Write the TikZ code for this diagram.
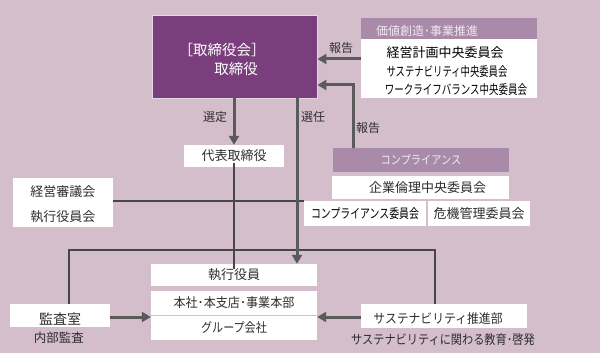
\documentclass[tikz,border=0pt]{standalone}
\usepackage{fontspec}
\setmainfont{Noto Sans CJK JP}
\usetikzlibrary{arrows.meta}
\definecolor{bgc}{HTML}{D4BECC}
\definecolor{boardc}{HTML}{7A3E7C}
\definecolor{hdrc}{HTML}{A98AA8}
\definecolor{hdrtxt}{HTML}{F2E8F1}
\definecolor{txtc}{HTML}{2E2E2E}
\definecolor{arrc}{HTML}{5A5A5A}
\definecolor{linec}{HTML}{474747}
\newcommand\cxs[2]{\scalebox{#1}[1]{#2}}
\tikzset{
  wbox/.style={fill=white, draw=none, inner sep=0pt, text=txtc, font=\fontsize{13}{14}\selectfont},
  hdrbox/.style={fill=hdrc, draw=none, inner sep=0pt, text=hdrtxt, font=\fontsize{12}{13}\selectfont},
  txt/.style={inner sep=0pt, text=txtc, font=\fontsize{13}{14}\selectfont},
  lbl/.style={inner sep=0pt, text=txtc, font=\fontsize{12}{13}\selectfont},
  thickarrow/.style={draw=arrc, line width=3pt, -{Triangle[width=10pt,length=9pt]}},
  thinline/.style={draw=linec, line width=1.1pt},
}
\begin{document}
\begin{tikzpicture}[x=1pt,y=-1pt]
\fill[bgc] (0,0) rectangle (600,353);
\useasboundingbox (0,0) rectangle (600,353);

% board
\node[fill=boardc, draw=white!80!boardc, line width=0.8pt, inner sep=0pt, minimum width=165pt, minimum height=83pt] (board) at (234.5,56.5) {};
\node[inner sep=0pt, text=white, font=\fontsize{14.5}{15}\selectfont] (boardt1) at (222,50) {［取締役会］};
\node[inner sep=0pt, text=white, font=\fontsize{14.5}{15}\selectfont] (boardt2) at (236,69) {取締役};

% value creation
\node[hdrbox, minimum width=176pt, minimum height=21pt] (vhdr) at (449,28.5) {};
\node[inner sep=0pt, text=hdrtxt, font=\fontsize{12}{13}\selectfont, anchor=west] (vhdrt) at (376,31) {価値創造･事業推進};
\node[wbox, minimum width=176pt, minimum height=59pt] (vbox) at (449,68.5) {};
\node[txt, text=black] (v1) at (445,53) {経営計画中央委員会};
\node[txt, text=black] (v2) at (447,72) {\cxs{0.72}{サステナビリティ中央委員会}};
\node[txt, text=black] (v3) at (456,90) {\cxs{0.73}{ワークライフバランス中央委員会}};

% representative director
\node[wbox, minimum width=100pt, minimum height=22pt] (rep) at (234,156) {代表取締役};

% management council
\node[wbox, minimum width=100pt, minimum height=49pt] (mgmt) at (63,202.5) {};
\node[txt] (mgmt1) at (63,192) {経営審議会};
\node[txt] (mgmt2) at (63,217) {執行役員会};

% compliance
\node[hdrbox, minimum width=176pt, minimum height=24pt] (chdr) at (421,160) {\cxs{0.85}{コンプライアンス}};
\node[wbox, minimum width=177pt, minimum height=23pt] (ceth) at (420.5,187.5) {\hspace{14pt}企業倫理中央委員会};
\node[wbox, minimum width=122pt, minimum height=25pt, text=black] (ccom) at (365,213.5) {\cxs{0.76}{コンプライアンス委員会}};
\node[wbox, minimum width=102pt, minimum height=25pt] (crisis) at (479,213.5) {危機管理委員会};

% executive officers and organisation
\node[wbox, minimum width=166pt, minimum height=22pt] (exec) at (234,275) {執行役員};
\node[wbox, minimum width=166pt, minimum height=49pt] (org) at (234,315.5) {};
\node[txt] (org1) at (234,303) {\cxs{0.93}{本社･本支店･事業本部}};
\node[txt] (org2) at (234,328) {\cxs{0.85}{グループ会社}};
\draw[draw=bgc, line width=1pt] (org.west |- 0,315.5) -- (org.east |- 0,315.5);

% audit
\node[wbox, minimum width=100pt, minimum height=23pt] (audit) at (60,315.5) {};
\node[txt, font=\fontsize{14}{15}\selectfont] (auditt) at (60,319) {監査室};
\node[txt, font=\fontsize{12.5}{13}\selectfont] (audit2) at (59,337.5) {内部監査};

% sustainability
\node[wbox, minimum width=166pt, minimum height=24pt] (sus) at (444,316) {};
\node[txt] (sust) at (438,319) {\cxs{0.91}{サステナビリティ推進部}};
\node[txt] (sus2) at (443,340) {\cxs{0.86}{サステナビリティに関わる教育･啓発}};

% coordinates
\coordinate (hl) at (69,250);
\coordinate (hr) at (435,250);
\coordinate (rp) at (353,85);

% thin lines
\draw[thinline] ([yshift=4pt]rep.south) -- ([yshift=-5pt]rep.south |- exec.north);
\draw[thinline] (mgmt.east |- 0,201) -- (ccom.west |- 0,201);
\draw[thinline] (audit.north -| hl) -- (hl) -- (hr) -- (sus.north -| hr);

% thick arrows
\draw[thickarrow] (vbox.west |- 0,59) -- (board.east |- 0,59);
\draw[thickarrow] (chdr.north -| rp) -- (rp) -- (board.east |- rp);
\draw[thickarrow] (board.south -| rep.north) -- (rep.north);
\draw[thickarrow] (297,0 |- board.south) -- (297,0 |- exec.north);
\draw[thickarrow] (audit.east |- 0,317) -- (org.west |- 0,317);
\draw[thickarrow] (sus.west |- 0,317) -- (org.east |- 0,317);

% labels
\node[lbl] (l1) at (341,48) {報告};
\node[lbl] (l2) at (368,128) {報告};
\node[lbl] (l3) at (215,117) {選定};
\node[lbl] (l4) at (313,117) {選任};
\end{tikzpicture}
\end{document}
